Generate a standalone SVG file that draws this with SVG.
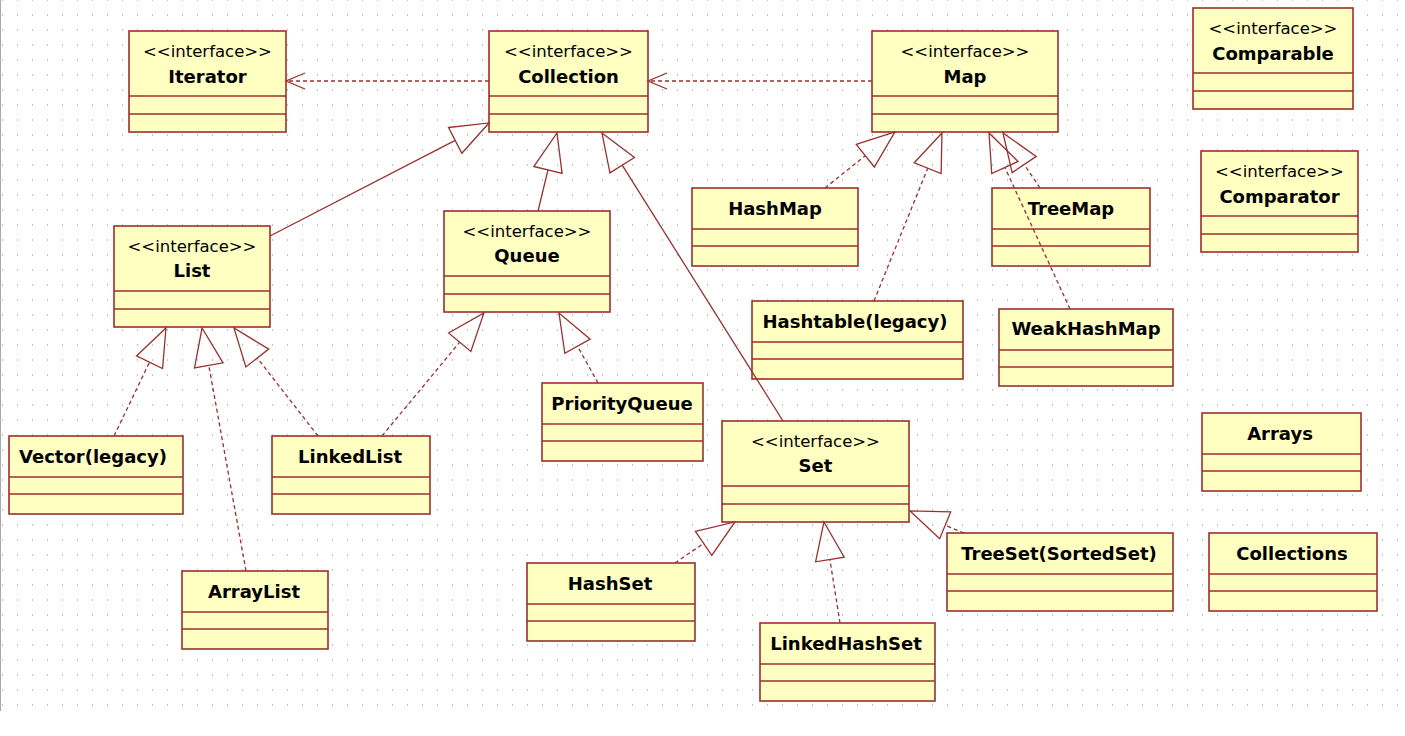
<svg xmlns="http://www.w3.org/2000/svg" width="1405" height="736" viewBox="0 0 1405 736">
<style>
.box{fill:#ffffc1;stroke:#9c2f2f;stroke-width:1.6}
.sep{stroke:#9c2f2f;stroke-width:1.6;fill:none}
.st{font-family:"DejaVu Sans",sans-serif;font-size:16.5px;fill:#000;text-anchor:middle}
.nm{font-family:"DejaVu Sans",sans-serif;font-size:18px;font-weight:bold;fill:#000;text-anchor:middle}
.gen{stroke:#9c2f2f;stroke-width:1.3;fill:none;marker-end:url(#tri)}
.real{stroke:#9c2f2f;stroke-width:1.3;fill:none;stroke-dasharray:4 3;marker-end:url(#tri)}
.dep{stroke:#9c2f2f;stroke-width:1.3;fill:none;stroke-dasharray:4 3;marker-end:url(#open)}
</style>
<defs>
<pattern id="grid" patternUnits="userSpaceOnUse" x="0" y="-1" width="15" height="15">
<rect x="2" y="0" width="1" height="2" fill="#c4c4c4"/>
</pattern>
<marker id="tri" markerUnits="userSpaceOnUse" orient="auto" refX="0" refY="0" markerWidth="60" markerHeight="60" overflow="visible">
<path d="M0,-14.5 L38,0 L0,14.5 Z" fill="none" stroke="#9c2f2f" stroke-width="1.3" stroke-dasharray="none"/>
</marker>
<marker id="open" markerUnits="userSpaceOnUse" orient="auto" refX="0" refY="0" markerWidth="40" markerHeight="40" overflow="visible">
<path d="M-19,-8 L0,0 L-19,8" fill="none" stroke="#9c2f2f" stroke-width="1.3" stroke-dasharray="none"/>
</marker>
</defs>
<rect x="0" y="0" width="1405" height="736" fill="#ffffff"/>
<rect x="0" y="0" width="1400" height="711" fill="url(#grid)"/>
<line x1="0.5" y1="0" x2="0.5" y2="711" stroke="#a8a8a8" stroke-width="1"/>

<g id="Iterator">
<rect class="box" x="129" y="31" width="157" height="101"/>
<path class="sep" d="M129,96 H286 M129,114 H286"/>
<text class="st" x="207.5" y="57">&lt;&lt;interface&gt;&gt;</text>
<text class="nm" x="207.5" y="83">Iterator</text>
</g>
<g id="Collection">
<rect class="box" x="489" y="31" width="159" height="101"/>
<path class="sep" d="M489,96 H648 M489,114 H648"/>
<text class="st" x="568.5" y="57">&lt;&lt;interface&gt;&gt;</text>
<text class="nm" x="568.5" y="83">Collection</text>
</g>
<g id="Map">
<rect class="box" x="872" y="31" width="186" height="101"/>
<path class="sep" d="M872,96 H1058 M872,114 H1058"/>
<text class="st" x="965" y="57">&lt;&lt;interface&gt;&gt;</text>
<text class="nm" x="965" y="83">Map</text>
</g>
<g id="Comparable">
<rect class="box" x="1193" y="8" width="160" height="101"/>
<path class="sep" d="M1193,73 H1353 M1193,91 H1353"/>
<text class="st" x="1273" y="34">&lt;&lt;interface&gt;&gt;</text>
<text class="nm" x="1273" y="60">Comparable</text>
</g>
<g id="Comparator">
<rect class="box" x="1201" y="151" width="157" height="101"/>
<path class="sep" d="M1201,216 H1358 M1201,234 H1358"/>
<text class="st" x="1279.5" y="177">&lt;&lt;interface&gt;&gt;</text>
<text class="nm" x="1279.5" y="203">Comparator</text>
</g>
<g id="List">
<rect class="box" x="114" y="226" width="156" height="101"/>
<path class="sep" d="M114,291 H270 M114,309 H270"/>
<text class="st" x="192" y="252">&lt;&lt;interface&gt;&gt;</text>
<text class="nm" x="192" y="277">List</text>
</g>
<g id="Queue">
<rect class="box" x="444" y="211" width="166" height="101"/>
<path class="sep" d="M444,276 H610 M444,294 H610"/>
<text class="st" x="527" y="237">&lt;&lt;interface&gt;&gt;</text>
<text class="nm" x="527" y="262">Queue</text>
</g>
<g id="Set">
<rect class="box" x="722" y="421" width="187" height="101"/>
<path class="sep" d="M722,486 H909 M722,504 H909"/>
<text class="st" x="815.5" y="447">&lt;&lt;interface&gt;&gt;</text>
<text class="nm" x="815.5" y="472">Set</text>
</g>
<g id="HashMap">
<rect class="box" x="692" y="188" width="166" height="78"/>
<path class="sep" d="M692,229 H858 M692,246 H858"/>
<text class="nm" x="775" y="215">HashMap</text>
</g>
<g id="TreeMap">
<rect class="box" x="992" y="188" width="158" height="78"/>
<path class="sep" d="M992,229 H1150 M992,246 H1150"/>
<text class="nm" x="1071" y="215">TreeMap</text>
</g>
<g id="Hashtable">
<rect class="box" x="752" y="301" width="211" height="78"/>
<path class="sep" d="M752,342 H963 M752,359 H963"/>
<text class="nm" x="855" y="328">Hashtable(legacy)</text>
</g>
<g id="WeakHashMap">
<rect class="box" x="999" y="309" width="174" height="77"/>
<path class="sep" d="M999,350 H1173 M999,367 H1173"/>
<text class="nm" x="1086" y="335">WeakHashMap</text>
</g>
<g id="Vector">
<rect class="box" x="9" y="436" width="174" height="78"/>
<path class="sep" d="M9,477 H183 M9,494 H183"/>
<text class="nm" x="93" y="463">Vector(legacy)</text>
</g>
<g id="LinkedList">
<rect class="box" x="272" y="436" width="158" height="78"/>
<path class="sep" d="M272,477 H430 M272,494 H430"/>
<text class="nm" x="350" y="463">LinkedList</text>
</g>
<g id="ArrayList">
<rect class="box" x="182" y="571" width="146" height="78"/>
<path class="sep" d="M182,612 H328 M182,629 H328"/>
<text class="nm" x="254" y="598">ArrayList</text>
</g>
<g id="PriorityQueue">
<rect class="box" x="542" y="383" width="161" height="78"/>
<path class="sep" d="M542,424 H703 M542,441 H703"/>
<text class="nm" x="622" y="410">PriorityQueue</text>
</g>
<g id="HashSet">
<rect class="box" x="527" y="563" width="168" height="78"/>
<path class="sep" d="M527,604 H695 M527,621 H695"/>
<text class="nm" x="610" y="590">HashSet</text>
</g>
<g id="LinkedHashSet">
<rect class="box" x="760" y="623" width="175" height="78"/>
<path class="sep" d="M760,664 H935 M760,681 H935"/>
<text class="nm" x="846" y="650">LinkedHashSet</text>
</g>
<g id="TreeSet">
<rect class="box" x="947" y="533" width="226" height="78"/>
<path class="sep" d="M947,574 H1173 M947,591 H1173"/>
<text class="nm" x="1059" y="560">TreeSet(SortedSet)</text>
</g>
<g id="Arrays">
<rect class="box" x="1202" y="413" width="159" height="78"/>
<path class="sep" d="M1202,454 H1361 M1202,471 H1361"/>
<text class="nm" x="1280" y="440">Arrays</text>
</g>
<g id="Collections">
<rect class="box" x="1209" y="533" width="168" height="78"/>
<path class="sep" d="M1209,574 H1377 M1209,591 H1377"/>
<text class="nm" x="1292" y="560">Collections</text>
</g>

<g id="connectors">
<line class="dep" x1="489" y1="81" x2="286" y2="81"/>
<line class="dep" x1="872" y1="81" x2="648" y2="81"/>
<line class="gen" x1="270" y1="236" x2="455.2" y2="140.4"/>
<line class="gen" x1="538" y1="211" x2="548.0" y2="169.9"/>
<line class="gen" x1="783" y1="421" x2="622.2" y2="165.2"/>
<line class="real" x1="825" y1="188" x2="865.3" y2="155.7"/>
<line class="real" x1="874" y1="301" x2="927.7" y2="168.2"/>
<line class="real" x1="1040" y1="188" x2="1024.2" y2="164.5"/>
<line class="real" x1="1070" y1="309" x2="1004.9" y2="167.5"/>
<line class="real" x1="114" y1="436" x2="149.5" y2="362.2"/>
<line class="real" x1="246" y1="571" x2="208.8" y2="365.4"/>
<line class="real" x1="318" y1="436" x2="257.3" y2="358"/>
<line class="real" x1="382" y1="436" x2="459.7" y2="342.2"/>
<line class="real" x1="598" y1="383" x2="577.5" y2="346.2"/>
<line class="real" x1="675" y1="563" x2="703.6" y2="543.4"/>
<line class="real" x1="840" y1="623" x2="829.9" y2="559.5"/>
<line class="real" x1="964" y1="533" x2="945.2" y2="525.3"/>
</g>
</svg>
